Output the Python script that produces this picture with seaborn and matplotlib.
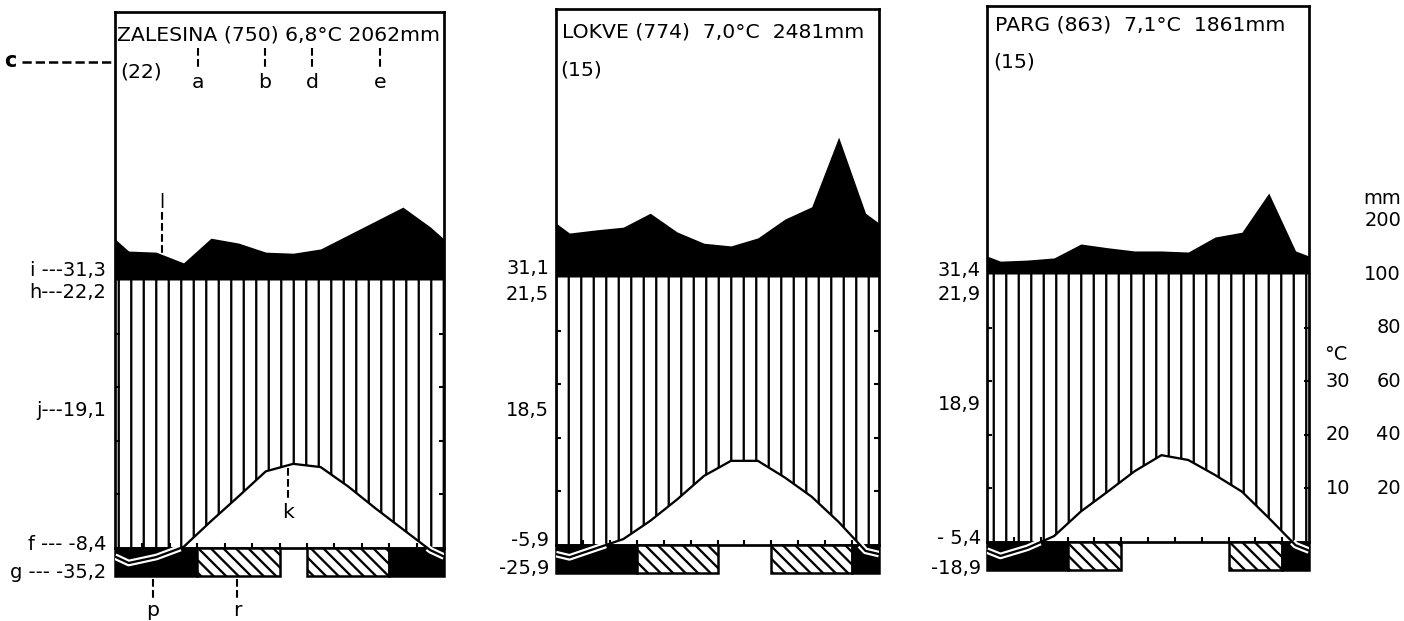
import numpy as np
import matplotlib.pyplot as plt
import seaborn as sns
from matplotlib.patches import Rectangle

# station data
stations = ['ZALESINA', 'LOKVE', 'PARG']
altitude = [750, 774, 863]
years = [22, 15, 15]
mean_temp = ['6,8', '7,0', '7,1']
annual_rain = [2062, 2481, 1861]

temp_zalesina = [-2.8, -1.7, 0.2, 5.0, 9.6, 14.3, 15.7, 15.1, 11.5, 7.4, 3.5, -0.4]
temp_lokve = [-2.3, -0.6, 1.1, 4.5, 8.5, 12.9, 15.7, 15.7, 12.6, 9.0, 4.3, -1.1]
temp_parg = [-2.6, -1.1, 1.1, 5.7, 9.4, 13.2, 16.2, 15.3, 12.5, 9.4, 4.5, -0.6]

rain_zalesina = [154, 152, 132, 178, 169, 152, 150, 158, 184, 210, 236, 199]
rain_lokve = [182, 188, 193, 219, 184, 163, 158, 173, 208, 231, 361, 219]
rain_parg = [124, 126, 130, 156, 149, 143, 143, 141, 169, 178, 251, 143]

# B = black (frost), H = hatched (possible frost), W = frost free
frost_zalesina = list('BBBHHHWHHHBB')
frost_lokve = list('BBBHHHWWHHHB')
frost_parg = list('BBBHHWWWWHHB')

extremes_zalesina = ['31,3', '22,2', '19,1', '-8,4', '-35,2']
extremes_lokve = ['31,1', '21,5', '18,5', '-5,9', '-25,9']
extremes_parg = ['31,4', '21,9', '18,9', '- 5,4', '-18,9']

mm_ticks = [200, 100, 80, 60, 40, 20]
degc_ticks = [30, 20, 10]

temps = [temp_zalesina, temp_lokve, temp_parg]
rains = [rain_zalesina, rain_lokve, rain_parg]
frosts = [frost_zalesina, frost_lokve, frost_parg]
extremes = [extremes_zalesina, extremes_lokve, extremes_parg]


def rain_units(p):
    # 10 degC = 20 mm, above 100 mm the scale is reduced
    p = np.asarray(p, float)
    return np.where(p <= 100, p / 2, 50 + (p - 100) / 10)


sns.set_style('white')
plt.rcParams['font.family'] = ['DejaVu Sans']
plt.rcParams['text.color'] = 'black'
plt.rcParams['hatch.linewidth'] = 1.1
plt.rcParams['hatch.color'] = 'black'

W, H = 1404, 621
fig = plt.figure(figsize=(W / 150, H / 150), dpi=150)
S = 5.36            # pixels per degree
YMIN, YMAX = -5.3, 100
panels_px = [(115, 444, 548), (556, 879, 545), (987, 1309, 542)]

axes = []
for left, right, zero in panels_px:
    bottom = zero - YMIN * S
    top = zero - YMAX * S
    axes.append(fig.add_axes([left / W, 1 - bottom / H, (right - left) / W, (bottom - top) / H]))


def px(i, x, y):
    left, right, zero = panels_px[i]
    return (x - left) / (right - left) * 12, (zero - y) / S


def draw_panel(ax, t, r, frost):
    months = np.arange(12) + 0.5
    xe = np.r_[-0.5, months, 12.5]
    te = np.r_[t[-1], t, t[0]]
    re = rain_units(np.r_[r[-1], r, r[0]])
    xd = np.linspace(0, 12, 721)
    td = np.interp(xd, xe, te)
    rd = np.interp(xd, xe, re)

    # humid period: vertical hatching
    ax.fill_between(xd, np.maximum(td, 0), 50, facecolor='none', edgecolor='black',
                    hatch='||', linewidth=0, zorder=1)
    # perhumid part above 100 mm
    ax.fill_between(xd, 50, rd, color='black', linewidth=0, zorder=2)

    # frost bar
    i = 0
    while i < 12:
        j = i
        while j < 12 and frost[j] == frost[i]:
            j += 1
        if frost[i] == 'B':
            ax.add_patch(Rectangle((i, YMIN), j - i, -YMIN, facecolor='black', edgecolor='black',
                                   lw=1.2, zorder=3, clip_on=False))
        elif frost[i] == 'H':
            ax.add_patch(Rectangle((i, YMIN), j - i, -YMIN, facecolor='white', edgecolor='black',
                                   hatch='\\\\\\\\', lw=1.2, zorder=3, clip_on=False))
        i = j

    # temperature curve
    neg = np.where(td < 0, td, np.nan)
    ax.plot(xd, neg, color='white', lw=3.2, zorder=4, solid_capstyle='butt')
    sns.lineplot(x=xe, y=te, ax=ax, color='black', lw=1.1, zorder=5)

    ax.set_xlim(0, 12)
    ax.set_ylim(YMIN, YMAX)
    ax.spines['bottom'].set_position(('data', 0))
    ax.spines['left'].set_bounds(0, YMAX)
    ax.spines['right'].set_bounds(0, YMAX)
    for sp in ax.spines.values():
        sp.set_visible(True)
        sp.set_color('black')
        sp.set_linewidth(1.3)
    ax.set_xticks(np.arange(1, 12))
    ax.set_yticks([10, 20, 30, 40])
    ax.tick_params(direction='in', length=2.5, width=1, colors='black', left=True, right=True,
                   bottom=True, labelleft=False, labelbottom=False)
    ax.set_xlabel('')
    ax.set_ylabel('')


for k, ax in enumerate(axes):
    draw_panel(ax, temps[k], rains[k], frosts[k])

# headers
head_px = [(117, 35, 120, 72), (562, 32, 560, 70), (995, 25, 993, 62)]
head_txt = ['{} ({}) {}°C {}mm', '{} ({})  {}°C  {}mm', '{} ({})  {}°C  {}mm']
for k, ax in enumerate(axes):
    hx, hy, sx, sy = head_px[k]
    x, y = px(k, hx, hy)
    ax.text(x, y, head_txt[k].format(stations[k], altitude[k], mean_temp[k], annual_rain[k]),
            fontsize=9.8, ha='left', va='center')
    x, y = px(k, sx, sy)
    ax.text(x, y, '({})'.format(years[k]), fontsize=9.8, ha='left', va='center')

# extreme values on the left of each panel
ext_y = [[270, 293, 410, 545, 573], [268, 295, 410, 540, 568], [270, 295, 405, 538, 568]]
ext_right = [106, 549, 981]
prefix = ['i ---', 'h---', 'j---', 'f --- ', 'g --- ']
for k, ax in enumerate(axes):
    for n, val in enumerate(extremes[k]):
        x, y = px(k, ext_right[k], ext_y[k][n])
        label = prefix[n] + val if k == 0 else val
        ax.text(x, y, label, fontsize=9.3, ha='right', va='center')

# key letters on the first panel
ax = axes[0]
for letter, lx in zip(['a', 'b', 'd', 'e'], [198, 265, 312, 380]):
    x, y0 = px(0, lx, 48)
    _, y1 = px(0, lx, 70)
    _, yl = px(0, lx, 83)
    ax.plot([x, x], [y0, y1], ls='--', color='black', lw=1, clip_on=False)
    ax.text(x, yl, letter, fontsize=9.8, ha='center', va='center')

x0, yc = px(0, 22, 62)
x1, _ = px(0, 113, 62)
ax.plot([x0, x1], [yc, yc], ls='--', color='black', lw=1.2, clip_on=False)
x, y = px(0, 10, 61)
ax.text(x, y, 'c', fontsize=10, fontweight='bold', ha='center', va='center')

x, y0 = px(0, 162, 212)
_, y1 = px(0, 162, 262)
ax.plot([x, x], [y0, y1], ls='--', color='black', lw=1, zorder=6)
_, yl = px(0, 162, 202)
ax.text(x, yl, 'l', fontsize=9, ha='center', va='center')

x, y0 = px(0, 288, 468)
_, y1 = px(0, 288, 498)
ax.plot([x, x], [y0, y1], ls='--', color='black', lw=1, zorder=6)
_, yl = px(0, 288, 512)
ax.text(x, yl, 'k', fontsize=9.8, ha='center', va='center')

for letter, lx in zip(['p', 'r'], [153, 237]):
    x, y0 = px(0, lx, 579)
    _, y1 = px(0, lx, 600)
    _, yl = px(0, lx, 610)
    ax.plot([x, x], [y0, y1], ls='--', color='black', lw=1, clip_on=False)
    ax.text(x, yl, letter, fontsize=9.8, ha='center', va='center')

# shared scale on the right of the last panel
ax = axes[2]
xm, _ = px(2, 1401, 0)
xc, _ = px(2, 1350, 0)
for v in mm_ticks:
    ax.text(xm, float(rain_units(v)), str(v), fontsize=9.3, ha='right', va='center')
ax.text(xm, float(rain_units(200)) + 4, 'mm', fontsize=9.3, ha='right', va='center')
for v in degc_ticks:
    ax.text(xc, v, str(v), fontsize=9.3, ha='right', va='center')
ax.text(xc - 0.1, 35, '°C', fontsize=9.3, ha='right', va='center')

fig.savefig('out.png', dpi=150)
